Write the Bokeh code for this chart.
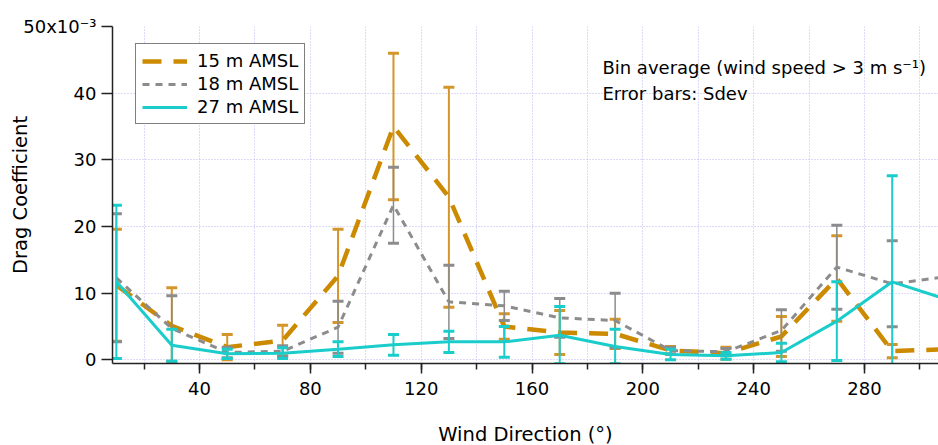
from bokeh.plotting import figure
from bokeh.models import Range1d, FixedTicker, Label, Legend, LegendItem
from bokeh.embed import file_html
from bokeh.resources import INLINE

# Wind direction bins (degrees)
direction = [10, 30, 50, 70, 90, 110, 130, 150, 170, 190, 210, 230, 250, 270, 290, 310]
err_direction = direction[:15]

# Drag coefficient (x10^-3) bin averages and standard deviations
cd15 = [11.2, 5.1, 1.9, 2.9, 12.6, 35.0, 24.4, 5.0, 4.1, 3.9, 1.4, 1.0, 3.5, 12.2, 1.3, 1.6]
sd15 = [8.4, 5.7, 1.9, 2.3, 7.0, 11.0, 16.5, 1.9, 3.3, 2.2, 0.6, 0.9, 3.0, 6.4, 1.0]
cd18 = [12.3, 4.7, 1.1, 1.3, 4.9, 23.2, 8.7, 8.1, 6.3, 5.9, 1.4, 1.2, 4.4, 13.9, 11.4, 12.5]
sd18 = [9.6, 4.9, 0.8, 0.8, 3.9, 5.7, 5.5, 2.2, 2.9, 4.1, 0.5, 0.5, 3.1, 6.3, 6.45]
cd27 = [11.7, 2.2, 0.9, 1.0, 1.6, 2.25, 2.7, 2.7, 3.7, 2.0, 0.8, 0.6, 1.1, 5.8, 11.7, 9.0]
sd27 = [11.5, 2.4, 0.7, 0.8, 1.1, 1.55, 1.6, 2.3, 4.3, 2.6, 0.8, 0.5, 1.4, 5.9, 15.9]

series_names = ["15 m AMSL", "18 m AMSL", "27 m AMSL"]
x_major = [40, 80, 120, 160, 200, 240, 280]
x_minor = [20, 40, 60, 80, 100, 120, 140, 160, 180, 200, 220, 240, 260, 280, 300]
y_ticks = [0, 10, 20, 30, 40, 50]
y_tick_labels = {50: "50x10⁻³"}

FONT = "DejaVu Sans"
ORANGE = "#CC8A00"
ORANGE_ERR = "#D4962A"
GRAY = "#8C8C8C"
CYAN = "#1ACCCA"

p = figure(frame_width=826, frame_height=337,
           x_range=Range1d(8.6, 306.7), y_range=Range1d(-0.55, 50),
           output_backend="svg", toolbar_location=None,
           min_border_left=112, min_border_right=0,
           min_border_top=26, min_border_bottom=82,
           background_fill_color="white", border_fill_color="white")
p.outline_line_color = None

# grid
grid_color = "#B8B8F0"
p.xaxis.ticker = FixedTicker(ticks=x_major, minor_ticks=x_minor)
p.xgrid.ticker = FixedTicker(ticks=x_minor)
p.yaxis.ticker = FixedTicker(ticks=y_ticks, minor_ticks=[])
for g in (p.xgrid, p.ygrid):
    g.grid_line_color = grid_color
    g.grid_line_dash = "1 2"
    g.grid_line_width = 1

# axes
for ax in (p.xaxis, p.yaxis):
    ax.axis_line_color = "#222222"
    ax.axis_line_width = 1.5
    ax.major_tick_line_color = "#222222"
    ax.major_tick_line_width = 1.5
    ax.minor_tick_line_color = "#222222"
    ax.minor_tick_line_width = 1.5
    ax.major_tick_in = 0
    ax.minor_tick_in = 0
    ax.major_label_text_font = FONT
    ax.major_label_text_font_size = "18px"
    ax.major_label_text_color = "black"
    ax.axis_label_text_font = FONT
    ax.axis_label_text_font_size = "19.5px"
    ax.axis_label_text_font_style = "normal"
    ax.axis_label_text_color = "black"

p.xaxis.major_tick_out = 10
p.xaxis.minor_tick_out = 6
p.xaxis.major_label_standoff = 8
p.xaxis.axis_label = "Wind Direction (°)"
p.xaxis.axis_label_standoff = 25

p.yaxis.major_tick_out = 11
p.yaxis.minor_tick_out = 0
p.yaxis.major_label_standoff = 5
p.yaxis.major_label_overrides = y_tick_labels
p.yaxis.axis_label = "Drag Coefficient"
p.yaxis.axis_label_standoff = -12

# error bars
def error_bars(xs, ys, sds, color, width, cap_width):
    lo = [y - s for y, s in zip(ys, sds)]
    hi = [y + s for y, s in zip(ys, sds)]
    p.segment(x0=xs, y0=lo, x1=xs, y1=hi, line_color=color, line_width=width)
    p.scatter(x=xs, y=hi, marker="dash", size=11, line_color=color,
              line_width=cap_width)
    p.scatter(x=xs, y=lo, marker="dash", size=11, line_color=color,
              line_width=cap_width)

error_bars(err_direction, cd15[:15], sd15, ORANGE_ERR, 2, 3)
r15 = p.line(direction, cd15, line_color=ORANGE, line_width=4.5, line_dash="19 12")
error_bars(err_direction, cd18[:15], sd18, GRAY, 1.5, 3)
r18 = p.line(direction, cd18, line_color=GRAY, line_width=3, line_dash="7 6")
error_bars(err_direction, cd27[:15], sd27, CYAN, 2, 3)
r27 = p.line(direction, cd27, line_color=CYAN, line_width=3)

legend = Legend(items=[LegendItem(label=series_names[0], renderers=[r15]),
                       LegendItem(label=series_names[1], renderers=[r18]),
                       LegendItem(label=series_names[2], renderers=[r27])],
                location=(23, 239))
legend.label_text_font = FONT
legend.label_text_font_size = "18px"
legend.label_text_color = "black"
legend.glyph_width = 45
legend.glyph_height = 20
legend.label_height = 20
legend.label_standoff = 10
legend.spacing = 2
legend.padding = 6
legend.margin = 0
legend.border_line_color = "black"
legend.border_line_width = 1
legend.background_fill_color = "white"
legend.background_fill_alpha = 1
p.add_layout(legend, "center")

p.add_layout(Label(x=185.4, y=43.8, text="Bin average (wind speed > 3 m s⁻¹)",
                   text_baseline="alphabetic", text_font=FONT,
                   text_font_size="18px", text_color="black"))
p.add_layout(Label(x=185.4, y=39.9, text="Error bars: Sdev",
                   text_baseline="alphabetic", text_font=FONT,
                   text_font_size="18px", text_color="black"))

open("out.html", "w").write(file_html(p, INLINE))
